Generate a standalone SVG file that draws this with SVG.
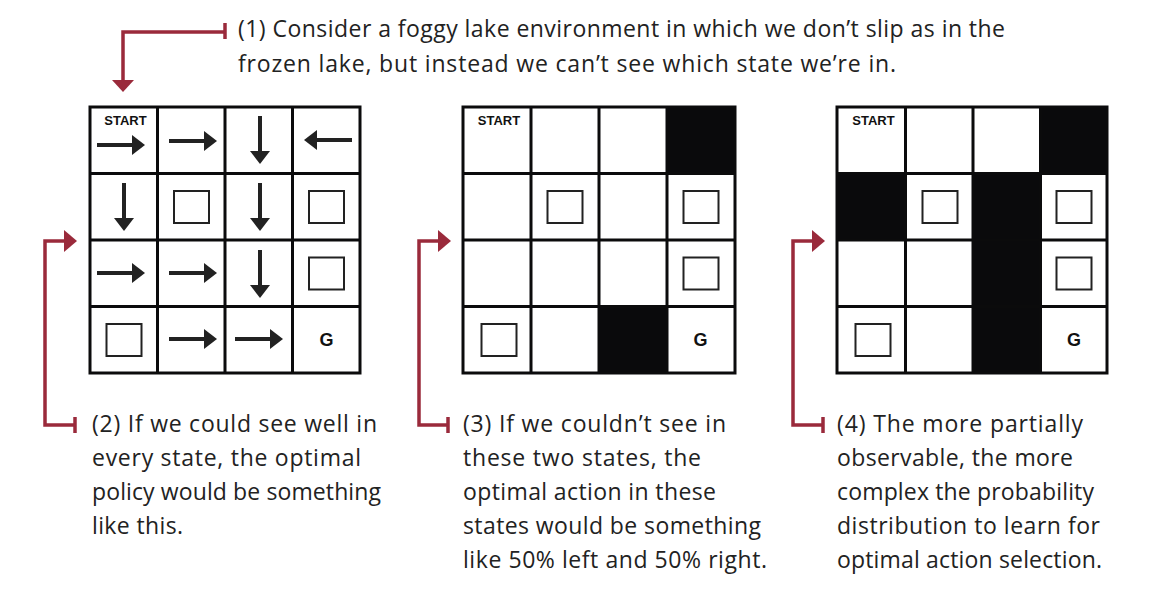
<svg xmlns="http://www.w3.org/2000/svg" xmlns:xlink="http://www.w3.org/1999/xlink" width="1174" height="594" viewBox="0 0 1174 594">
<style>
.bg{fill:#ffffff}
.grid{fill:none;stroke:#0b0b0c;stroke-width:3}
.blk{fill:#0a0a0c}
.sq{fill:#ffffff;stroke:#222;stroke-width:2}
.lbl{font-family:"Liberation Sans",Arial,sans-serif;font-weight:bold;fill:#111;text-anchor:middle}
.start{font-size:13px}
.g{font-size:18px}
.note{font-family:"Open Sans","Liberation Sans",sans-serif;font-size:23px;fill:#222}
.con{fill:none;stroke:#9a2a3b;stroke-width:3.5}
.head{fill:#9a2a3b}
</style>
<defs>
<g id="arr">
<line x1="-24" y1="0" x2="13" y2="0" stroke="#222" stroke-width="4"/>
<polygon points="11,-10 24,0 11,10" fill="#222"/>
</g>
<rect id="box" x="-17.5" y="-16" width="35" height="32" class="sq"/>
</defs>
<rect class="bg" x="0" y="0" width="1174" height="594"/>

<g id="grid1">
<rect class="grid" x="90" y="107" width="270" height="266"/>
<path class="grid" d="M157.5 107V373M225 107V373M292.5 107V373M90 173.5H360M90 240H360M90 306.5H360"/>
<text class="lbl start" x="125.5" y="125">START</text>
<use xlink:href="#arr" transform="translate(121,145)"/>
<use xlink:href="#arr" transform="translate(193,141)"/>
<use xlink:href="#arr" transform="translate(260,140) rotate(90)"/>
<use xlink:href="#arr" transform="translate(328,140) rotate(180)"/>
<use xlink:href="#arr" transform="translate(124,207) rotate(90)"/>
<use xlink:href="#box" transform="translate(191.5,207)"/>
<use xlink:href="#arr" transform="translate(260,207) rotate(90)"/>
<use xlink:href="#box" transform="translate(326.5,207)"/>
<use xlink:href="#arr" transform="translate(121,273)"/>
<use xlink:href="#arr" transform="translate(193,273)"/>
<use xlink:href="#arr" transform="translate(260,274) rotate(90)"/>
<use xlink:href="#box" transform="translate(326.5,273.5)"/>
<use xlink:href="#box" transform="translate(124,340)"/>
<use xlink:href="#arr" transform="translate(193,339)"/>
<use xlink:href="#arr" transform="translate(259,339)"/>
<text class="lbl g" x="326.5" y="346">G</text>
</g>

<g id="grid2">
<rect class="blk" x="667" y="107" width="68" height="66.5"/>
<rect class="blk" x="599" y="306.5" width="68" height="66.5"/>
<rect class="grid" x="463" y="107" width="272" height="266"/>
<path class="grid" d="M531 107V373M599 107V373M667 107V373M463 173.5H735M463 240H735M463 306.5H735"/>
<text class="lbl start" x="499" y="125">START</text>
<use xlink:href="#box" transform="translate(565,207)"/>
<use xlink:href="#box" transform="translate(701,207)"/>
<use xlink:href="#box" transform="translate(701,273.5)"/>
<use xlink:href="#box" transform="translate(499,340)"/>
<text class="lbl g" x="700.5" y="346">G</text>
</g>

<g id="grid3">
<rect class="blk" x="1040.5" y="107" width="67.5" height="66.5"/>
<rect class="blk" x="837" y="173.5" width="68.5" height="66.5"/>
<rect class="blk" x="973" y="173.5" width="67.5" height="199.5"/>
<rect class="grid" x="837" y="107" width="270" height="266"/>
<path class="grid" d="M905.5 107V373M973 107V373M1040.5 107V373M837 173.5H1107M837 240H1107M837 306.5H1107"/>
<text class="lbl start" x="873.5" y="125">START</text>
<use xlink:href="#box" transform="translate(940,207)"/>
<use xlink:href="#box" transform="translate(1074,207)"/>
<use xlink:href="#box" transform="translate(1074,273.5)"/>
<use xlink:href="#box" transform="translate(873,340)"/>
<text class="lbl g" x="1074" y="346">G</text>
</g>

<g id="note1">
<text class="note" x="238" y="37" textLength="767" lengthAdjust="spacing">(1) Consider a foggy lake environment in which we don’t slip as in the</text>
<text class="note" x="238" y="72" textLength="658" lengthAdjust="spacing">frozen lake, but instead we can’t see which state we’re in.</text>
</g>

<g id="note2">
<text class="note" x="92" y="432" textLength="285" lengthAdjust="spacing">(2) If we could see well in</text>
<text class="note" x="92" y="466" textLength="269" lengthAdjust="spacing">every state, the optimal</text>
<text class="note" x="92" y="500" textLength="289" lengthAdjust="spacing">policy would be something</text>
<text class="note" x="92" y="534" textLength="91" lengthAdjust="spacing">like this.</text>
</g>

<g id="note3">
<text class="note" x="463" y="432" textLength="263" lengthAdjust="spacing">(3) If we couldn’t see in</text>
<text class="note" x="463" y="466" textLength="238" lengthAdjust="spacing">these two states, the</text>
<text class="note" x="463" y="500" textLength="253" lengthAdjust="spacing">optimal action in these</text>
<text class="note" x="463" y="534" textLength="298" lengthAdjust="spacing">states would be something</text>
<text class="note" x="463" y="568" textLength="304" lengthAdjust="spacing">like 50% left and 50% right.</text>
</g>

<g id="note4">
<text class="note" x="837" y="432" textLength="246" lengthAdjust="spacing">(4) The more partially</text>
<text class="note" x="837" y="466" textLength="236" lengthAdjust="spacing">observable, the more</text>
<text class="note" x="837" y="500" textLength="257" lengthAdjust="spacing">complex the probability</text>
<text class="note" x="837" y="534" textLength="263" lengthAdjust="spacing">distribution to learn for</text>
<text class="note" x="837" y="568" textLength="265" lengthAdjust="spacing">optimal action selection.</text>
</g>

<g id="connectors">
<path class="con" d="M225 32H123V81" stroke-width="4"/>
<path class="con" d="M225 23V39" stroke-width="4"/>
<polygon class="head" points="112,80 134,80 123,92"/>

<path class="con" d="M75 425H45V241H66"/>
<path class="con" d="M75 417V433"/>
<polygon class="head" points="64,230 77,241 64,252"/>

<path class="con" d="M448 425H419V241H440"/>
<path class="con" d="M448 417V433"/>
<polygon class="head" points="438,230 451,241 438,252"/>

<path class="con" d="M823 425H793V241H814"/>
<path class="con" d="M823 417V433"/>
<polygon class="head" points="812,230 825,241 812,252"/>
</g>
</svg>
